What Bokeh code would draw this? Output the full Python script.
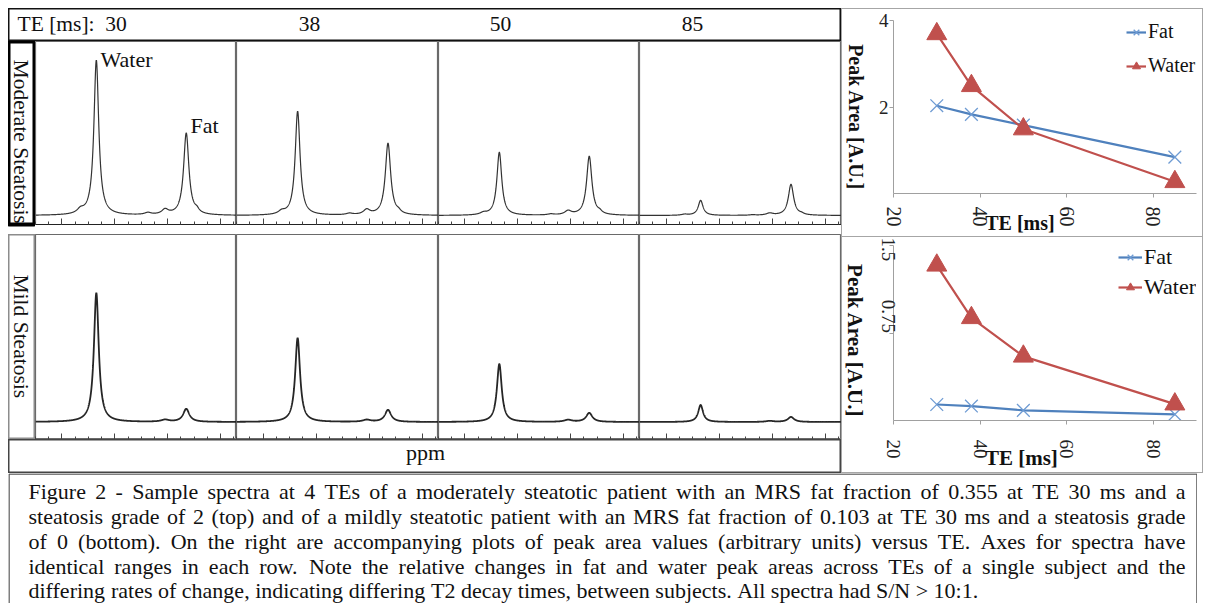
import numpy as np
from bokeh.plotting import figure
from bokeh.layouts import row, column
from bokeh.models import (Range1d, SingleIntervalTicker, FixedTicker, Legend, LegendItem, Label,
                          Spacer, CustomJSTickFormatter)
from bokeh.core.properties import value
from bokeh.embed import file_html
from bokeh.resources import INLINE

# ------------------------------------------------------------------ data
TE = [30, 38, 50, 85]

# peak positions (ppm)
WATER_PPM = 4.7
FAT_PPM = 1.3
OLEFINIC_PPM = 5.3
DIALLYL_PPM = 2.75
ALLYLIC_PPM = 2.1
METHYL_PPM = 0.9

# spectra peak heights (a.u.) per TE - moderate steatosis
mod_water = [155, 104, 63, 15]
mod_fat = [82, 72, 59, 31]
mod_olefinic = [4, 3, 2, 1]
mod_diallyl = [2, 1.5, 1, 0.5]
mod_allylic = [5, 5, 4, 2]
mod_methyl = [3, 2, 2, 1]
# mild steatosis
mild_water = [129, 84, 58, 17]
mild_fat = [13, 12, 9, 5]
mild_allylic = [2, 2, 2, 1]

# peak areas (a.u.) versus TE
mod_fat_area = [2.03, 1.83, 1.58, 0.84]
mod_water_area = [3.69, 2.49, 1.49, 0.27]
mild_fat_area = [0.137, 0.124, 0.087, 0.053]
mild_water_area = [1.33, 0.88, 0.55, 0.14]

ROW_LABELS = ["Moderate Steatosis", "Mild Steatosis"]
PEAK_LABELS = ["Water", "Fat"]
SERIES = ["Fat", "Water"]
HEADER_PREFIX = "TE [ms]:\u00a0\u00a0"
X_TITLE = "TE [ms]"
Y_TITLE = "Peak Area [A.U.]"
PPM_LABEL = "ppm"
AREA_XTICKS = [20, 40, 60, 80]
CAPTION_LINES = [
    "Figure 2 - Sample spectra at 4 TEs of a moderately steatotic patient with an MRS fat fraction of 0.355 at TE 30 ms and a",
    "steatosis grade of 2 (top) and of a mildly steatotic patient with an MRS fat fraction of 0.103 at TE 30 ms and a steatosis grade",
    "of 0 (bottom). On the right are accompanying plots of peak area values (arbitrary units) versus TE. Axes for spectra have",
    "identical ranges in each row.  Note the relative changes in fat and water peak areas across TEs of a single subject and the",
    "differing rates of change, indicating differing T2 decay times, between subjects.  All spectra had S/N > 10:1.",
]

# ------------------------------------------------------------------ styling
SERIF = "Liberation Serif"
BLUE = "#4F81BD"
BLUE_M = "#6E9BD3"
RED = "#C0504D"
CELL_GRAY = "#a6a6a6"
GRID_GRAY = "#8c8c8c"

# Times / Liberation Serif advance widths (1/1000 em)
TW = {" ": 250, "!": 333, "(": 333, ")": 333, ",": 250, "-": 333, ".": 250, "/": 278,
      ":": 278, ">": 564, "A": 722, "D": 722, "F": 556, "M": 889, "N": 722, "O": 722,
      "R": 667, "S": 556, "T": 611, "E": 611, "a": 444, "b": 500, "c": 444, "d": 500,
      "e": 444, "f": 333, "g": 500, "h": 500, "i": 278, "j": 278, "k": 500, "l": 278,
      "m": 778, "n": 500, "o": 500, "p": 500, "q": 500, "r": 333, "s": 389, "t": 278,
      "u": 500, "v": 500, "w": 722, "x": 500, "y": 500, "z": 444}


def tw(s, size):
    return sum(TW.get(c, 500) for c in s) * size / 1000.0


def blank_fig(w, h, outline=None, outline_width=1):
    p = figure(width=w, height=h, x_range=Range1d(0, w), y_range=Range1d(h, 0),
               x_axis_location=None, y_axis_location=None, min_border=0,
               output_backend="svg", toolbar_location=None)
    p.grid.visible = False
    p.outline_line_color = outline
    p.outline_line_width = outline_width
    return p


def add_label(p, x, y, text, size, align="left", baseline="middle", bold=False,
              color="#111111"):
    p.add_layout(Label(x=x, y=y, text=text, text_font=SERIF, text_font_size=size,
                       text_align=align, text_baseline=baseline,
                       text_font_style="bold" if bold else "normal", text_color=color))


def add_vtext(p, x, y_start, text, size, bold=False):
    # text reading top-to-bottom, starting at y_start
    p.text(x=[x], y=[y_start], text=[text], angle=-np.pi / 2, text_font=value(SERIF),
           text_font_size=size, text_font_style="bold" if bold else "normal",
           text_align="left", text_baseline="middle", text_color="#111111")


def hline(w):
    return Spacer(width=w, height=1, styles={"background-color": CELL_GRAY})


def vline(h):
    return Spacer(width=1, height=h, styles={"background-color": CELL_GRAY})


# ------------------------------------------------------------------ spectra
PPM = np.linspace(7.0, -0.6, 1521)


def lorentz(c, h, fwhm):
    return h / (1.0 + ((PPM - c) / (fwhm / 2.0)) ** 2)


def spectrum_panel(width, height, yr, bottom_border, ys, lw, color):
    p = figure(width=width, height=height, x_range=Range1d(7.0, -0.6), y_range=Range1d(*yr),
               output_backend="svg", toolbar_location=None, y_axis_location=None,
               min_border_left=0, min_border_right=0, min_border_top=0,
               min_border_bottom=bottom_border)
    p.grid.visible = False
    p.outline_line_color = "#6a6a6a"
    p.outline_line_width = 1.2
    ax = p.xaxis[0]
    ax.ticker = SingleIntervalTicker(interval=2, num_minor_ticks=4)
    ax.formatter = CustomJSTickFormatter(code="return ''")
    ax.major_tick_in = 6
    ax.major_tick_out = 0
    ax.minor_tick_in = 3
    ax.minor_tick_out = 0
    ax.major_label_standoff = 0
    ax.axis_line_color = "#222222"
    ax.major_tick_line_color = "#444444"
    ax.minor_tick_line_color = "#444444"
    p.line(PPM, ys, line_color=color, line_width=lw)
    return p


widths = [201, 202, 201, 202]
top_panels = []
bot_panels = []
for i in range(4):
    y_mod = (lorentz(WATER_PPM, mod_water[i], 0.22) + lorentz(FAT_PPM, mod_fat[i], 0.24)
             + lorentz(OLEFINIC_PPM, mod_olefinic[i], 0.3) + lorentz(DIALLYL_PPM, mod_diallyl[i], 0.3)
             + lorentz(ALLYLIC_PPM, mod_allylic[i], 0.3) + lorentz(METHYL_PPM, mod_methyl[i], 0.2))
    y_mild = (lorentz(WATER_PPM, mild_water[i], 0.22) + lorentz(FAT_PPM, mild_fat[i], 0.28)
              + lorentz(ALLYLIC_PPM, mild_allylic[i], 0.35))
    pt = spectrum_panel(widths[i], 193, (-9, 174), 10, y_mod, 1.2, "#333333")
    pb = spectrum_panel(widths[i], 205, (-17.5, 187.5), 0, y_mild, 1.8, "#262626")
    top_panels.append(pt)
    bot_panels.append(pb)

# peak labels in the first moderate panel
p0 = top_panels[0]
add_label(p0, 4.54, 156.5, PEAK_LABELS[0], "22px")
add_label(p0, 1.14, 90, PEAK_LABELS[1], "22px")

# ------------------------------------------------------------------ header / labels / ppm
header = blank_fig(833, 33, outline="#111111", outline_width=2)
header_x = [9, 301, 492, 684]
for i, t in enumerate(TE):
    if i == 0:
        add_label(header, header_x[i], 15, HEADER_PREFIX + str(t), "21.5px")
    else:
        add_label(header, header_x[i], 15, str(t), "21.5px", align="center")

lab_top = blank_fig(27, 193, outline="#000000", outline_width=4)
add_vtext(lab_top, 12, 19, ROW_LABELS[0], "21.5px")
lab_bot = blank_fig(27, 205, outline=GRID_GRAY, outline_width=2)
add_vtext(lab_bot, 12, 40, ROW_LABELS[1], "21.5px")

ppm_fig = blank_fig(833, 34, outline="#444444", outline_width=2)
add_label(ppm_fig, 417, 13, PPM_LABEL, "22px", align="center")


# ------------------------------------------------------------------ peak area plots
def area_fig(height, top, y_end, yticks, fat, water, ytick_angle, tick_size, xstand,
             xlab_size, xlab_stand, xlab_pad, leg_loc, leg_spacing, leg_size, leg_glyph_w,
             overrides, bottom):
    p = figure(width=335, height=height, x_range=Range1d(20, 90), y_range=Range1d(0, y_end),
               min_border_left=26, min_border_right=6, min_border_top=top,
               min_border_bottom=bottom, output_backend="svg", toolbar_location=None)
    p.grid.visible = False
    p.outline_line_color = None
    xa = p.xaxis[0]
    ya = p.yaxis[0]
    xa.ticker = FixedTicker(ticks=AREA_XTICKS)
    ya.ticker = FixedTicker(ticks=yticks)
    if overrides:
        ya.major_label_overrides = overrides
    for a in (xa, ya):
        a.axis_line_color = "#a0a0a0"
        a.major_tick_line_color = "#a0a0a0"
        a.major_tick_out = 4
        a.major_tick_in = 0
        a.minor_tick_out = 0
        a.minor_tick_in = 0
        a.major_label_text_font = SERIF
        a.major_label_text_font_size = tick_size
        a.major_label_text_color = "#222222"
    xa.major_label_text_font_size = "20px" if height < 230 else "19px"
    xa.major_label_orientation = -np.pi / 2
    xa.major_label_standoff = xstand
    ya.major_label_orientation = ytick_angle
    ya.major_label_standoff = 1
    xa.axis_label = X_TITLE + "\u00a0" * xlab_pad
    xa.axis_label_text_font = SERIF
    xa.axis_label_text_font_style = "bold"
    xa.axis_label_text_font_size = xlab_size
    xa.axis_label_text_color = "#111111"
    xa.axis_label_standoff = xlab_stand

    fl = p.line(TE, fat, line_color=BLUE, line_width=2.2)
    fs = p.scatter(TE, fat, marker="x", size=18, line_color=BLUE_M, line_width=1.3)
    wl = p.line(TE, water, line_color=RED, line_width=2.2)
    ws = p.scatter(TE, water, marker="triangle", size=20, fill_color=RED, line_color=RED)

    leg = Legend(items=[LegendItem(label=SERIES[0], renderers=[fl, fs]),
                        LegendItem(label=SERIES[1], renderers=[wl, ws])],
                 location=leg_loc, spacing=leg_spacing, padding=0, margin=0,
                 border_line_color=None, background_fill_alpha=0,
                 label_text_font=SERIF, label_text_font_size=leg_size,
                 label_text_color="#111111", glyph_width=leg_glyph_w, glyph_height=20,
                 label_height=20, label_standoff=2)
    p.add_layout(leg)
    return p


area_top = area_fig(227, 11, 4, [2, 4], mod_fat_area, mod_water_area, 0, "19px", 9,
                    "20px", -18, 10, (233, 116), 11, "20px", 20, None, 43)
area_bot = area_fig(235, 8, 1.5, [0.75, 1.5], mild_fat_area, mild_water_area, -np.pi / 2,
                    "19px", 15, "21px", -16, 9, (225, 120), 4, "22px", 24,
                    {0.75: "0.75", 1.5: "1.5"}, 49)

ytitle_top = blank_fig(25, 227)
add_vtext(ytitle_top, 13, 31, Y_TITLE, "20px", bold=True)
ytitle_bot = blank_fig(25, 235)
add_vtext(ytitle_bot, 12.5, 25, Y_TITLE, "21px", bold=True)

# ------------------------------------------------------------------ caption
CAP_W, CAP_H = 1189, 130
cap = blank_fig(CAP_W, CAP_H)
left, right = 20.0, 1177.0
target = right - left
size = min(22.0, target / max(tw(l, 1.0) for l in CAPTION_LINES[:-1]))
line_y = [18, 43, 68, 93, 117]
xs, ys, words_all = [], [], []
for i, line in enumerate(CAPTION_LINES):
    words = [w for w in line.split(" ") if w]
    wsum = sum(tw(w, size) for w in words)
    if i < len(CAPTION_LINES) - 1:
        gap = (target - wsum) / (len(words) - 1)
    else:
        gap = tw(" ", size)
    x = left
    for w in words:
        xs.append(x)
        ys.append(line_y[i])
        words_all.append(w)
        x += tw(w, size) + gap
cap.text(x=xs, y=ys, text=words_all, text_font=value(SERIF), text_font_size=f"{size:.2f}px",
         text_baseline="middle", text_align="left", text_color="#111111")
cap.segment(x0=[0.5, 0.5, CAP_W - 0.5], y0=[0.5, 0.5, 0.5], x1=[CAP_W - 0.5, 0.5, CAP_W - 0.5],
            y1=[0.5, CAP_H, CAP_H], line_color="#555555", line_width=1.5)

# ------------------------------------------------------------------ layout
left_col = column(header, row(lab_top, *top_panels), row(lab_bot, *bot_panels), ppm_fig)
right_col = column(hline(362),
                   row(vline(227), ytitle_top, area_top, vline(227)),
                   hline(362),
                   row(vline(235), ytitle_bot, area_bot, vline(235)),
                   hline(362))
body = column(row(left_col, right_col), cap)
layout = column(Spacer(width=1, height=8), row(Spacer(width=8, height=1), body))

open("out.html", "w").write(file_html(layout, INLINE))
